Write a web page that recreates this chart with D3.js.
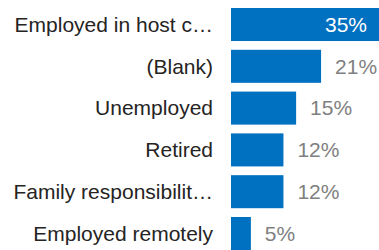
<!DOCTYPE html>
<html>
<head>
<meta charset="utf-8">
<script src="https://cdn.jsdelivr.net/npm/d3@7"></script>
<style>
  body { margin: 0; background: #fff; }
  text { font-family: "Liberation Sans", Arial, sans-serif; font-size: 21px; }
</style>
</head>
<body>
<div id="chart"></div>
<script>
// Categories and shares (%)
const categories = ["Employed in host c\u2026", "(Blank)", "Unemployed", "Retired", "Family responsibilit\u2026", "Employed remotely"];
const values = [35, 21.3, 15.4, 12.4, 12.4, 4.7];

const width = 379, height = 250;
const margin = { top: 8, right: 0, bottom: 0, left: 231 };

const svg = d3.select("#chart").append("svg")
    .attr("width", width)
    .attr("height", height);

const data = categories.map((c, i) => ({ label: c, value: values[i] }));

const x = d3.scaleLinear()
    .domain([0, d3.max(values)])
    .range([margin.left, width - margin.right]);

const y = d3.scaleBand()
    .domain(categories)
    .range([margin.top, height - margin.bottom])
    .paddingInner(0.21)
    .paddingOuter(0);

// Bars
svg.append("g")
    .selectAll("rect")
    .data(data)
    .join("rect")
    .attr("x", x(0))
    .attr("y", d => y(d.label))
    .attr("width", d => x(d.value) - x(0))
    .attr("height", y.bandwidth())
    .attr("fill", "#0070c0");

// Category labels
svg.append("g")
    .selectAll("text")
    .data(data)
    .join("text")
    .attr("x", 213)
    .attr("y", d => y(d.label) + y.bandwidth() / 2)
    .attr("dy", "0.35em")
    .attr("text-anchor", "end")
    .attr("fill", "#252423")
    .text(d => d.label);

// Value labels: inside the longest bar, outside for the rest
const inside = d => x(d.value) - x(0) > 120;
svg.append("g")
    .selectAll("text")
    .data(data)
    .join("text")
    .attr("x", d => inside(d) ? x(d.value) - 12 : x(d.value) + 14)
    .attr("y", d => y(d.label) + y.bandwidth() / 2)
    .attr("dy", "0.35em")
    .attr("text-anchor", d => inside(d) ? "end" : "start")
    .attr("fill", d => inside(d) ? "#ffffff" : "#808080")
    .text(d => Math.round(d.value) + "%");
</script>
</body>
</html>
